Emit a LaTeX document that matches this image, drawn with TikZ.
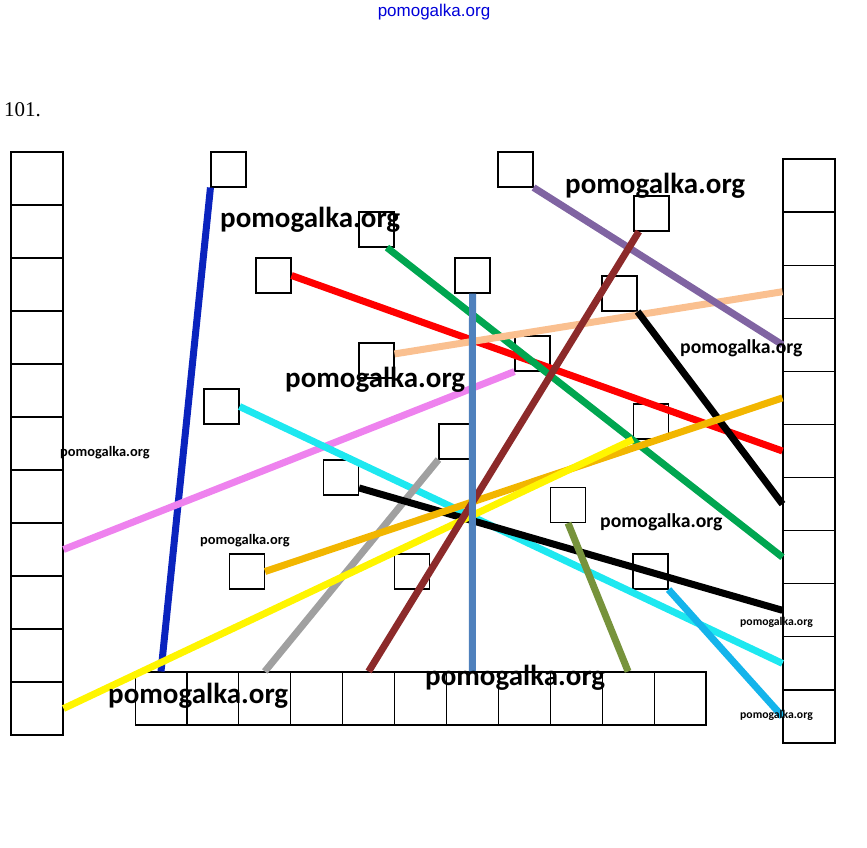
\documentclass[tikz,border=0pt]{standalone}
\usepackage{fontspec}
\setmainfont{Liberation Serif}
\newfontfamily\wmfont{Carlito}
\newfontfamily\topfont{Liberation Sans}
\usepackage{tikz}

\definecolor{darkblue}{RGB}{10,35,190}
\definecolor{lineblue}{RGB}{79,129,189}
\definecolor{peach}{RGB}{250,192,144}
\definecolor{pinkline}{RGB}{238,130,238}
\definecolor{purpleline}{RGB}{128,100,162}
\definecolor{brownline}{RGB}{140,42,42}
\definecolor{greenline}{RGB}{0,166,80}
\definecolor{cyanline}{RGB}{30,232,240}
\definecolor{grayline}{RGB}{160,160,160}
\definecolor{orangeline}{RGB}{242,182,0}
\definecolor{yellowline}{RGB}{255,245,0}
\definecolor{oliveline}{RGB}{119,147,60}
\definecolor{skyline}{RGB}{20,180,235}

\begin{document}
\begin{tikzpicture}[x=1pt,y=-1pt,
    cell/.style={draw,line width=1.1pt,minimum width=52pt,minimum height=53pt,inner sep=0pt},
    sq/.style={draw,line width=1.1pt,minimum size=35pt,inner sep=0pt},
    link/.style={line width=7pt},
    wm/.style={anchor=base west,inner sep=0pt,font=\wmfont\bfseries\fontsize{#1}{#1}\selectfont}]
    \useasboundingbox (0,0) rectangle (867,848);

    % columns and bottom row
    \foreach \i in {1,...,11} {
      \node[cell] (L\i) at (37,125.5+53*\i) {};
      \node[cell] (R\i) at (809,132.4+53.1*\i) {};
      \node[cell,minimum width=51.9pt] (B\i) at (109.1+51.9*\i,698.5) {};
    }

    % small squares
    \node[sq] (b1) at (228.5,169.5) {};
    \node[sq] (b2) at (273.5,275.5) {};
    \node[sq] (b3) at (221.5,406.5) {};
    \node[sq] (b4) at (376.5,229.5) {};
    \node[sq] (b5) at (472.5,275.5) {};
    \node[sq] (b6) at (376.5,360.5) {};
    \node[sq] (b7) at (532.5,353.5) {};
    \node[sq] (b8) at (515.5,169.5) {};
    \node[sq] (b9) at (651.5,213.5) {};
    \node[sq] (b10) at (619.5,293.5) {};
    \node[sq] (b11) at (651,421.5) {};
    \node[sq] (b12) at (456.5,441.5) {};
    \node[sq] (b13) at (341,477.5) {};
    \node[sq] (b14) at (412,571.5) {};
    \node[sq] (b15) at (568,505) {};
    \node[sq] (b16) at (650.5,571.5) {};
    \node[sq] (b17) at (247,571.5) {};

    \draw[link,darkblue] (b1.south west) -- (B1.north);
    \draw[link,red] (b2.east) -- (R6.west);
    \draw[link,greenline] (b4.-60) -- (R8.west);
    \draw[link,peach] (b6.20) -- (R3.west);
    \draw[link,pinkline] (b7.south west) -- (L8.east);
    \draw[link,purpleline] (b8.south east) -- (R4.west);
    \draw[link,black] (b10.south east) -- (R7.west);
    \draw[link,cyanline] (b3.east) -- (R10.west);
    \draw[link,grayline] (b12.south west) -- (B3.north);
    \draw[link,black] (b13.-30) -- (R9.west);
    \draw[link,orangeline] (b17.east) -- (R5.west);
    \draw[link,yellowline] (L11.east) -- (b11.south west);
    \draw[link,brownline] (b9.-125) -- (B5.north);
    \draw[link,lineblue] (b5.south) -- (B7.north);
    \draw[link,oliveline] (b15.south) -- (B10.north);
    \draw[link,skyline] (b16.south east) -- (R11.west);

    \node[font=\topfont\fontsize{17}{17}\selectfont,text=blue!85!black] (site) at (434,12) {pomogalka.org};
    \node[anchor=base west,inner sep=0pt,font=\fontsize{21}{21}\selectfont] (num) at (4,117) {101.};

    \node[wm=29] (w1) at (220,227) {pomogalka.org};
    \node[wm=29] (w2) at (565,193) {pomogalka.org};
    \node[wm=29] (w3) at (285,387) {pomogalka.org};
    \node[wm=29] (w4) at (108,703) {pomogalka.org};
    \node[wm=29] (w5) at (425,685) {pomogalka.org};
    \node[wm=19.7] (w6) at (680,353) {pomogalka.org};
    \node[wm=19.7] (w7) at (600,527) {pomogalka.org};
    \node[wm=14.4] (w8) at (60,456) {pomogalka.org};
    \node[wm=14.4] (w9) at (200,544) {pomogalka.org};
    \node[wm=11.7] (w10) at (740,625) {pomogalka.org};
    \node[wm=11.7] (w11) at (740,718) {pomogalka.org};
\end{tikzpicture}
\end{document}
